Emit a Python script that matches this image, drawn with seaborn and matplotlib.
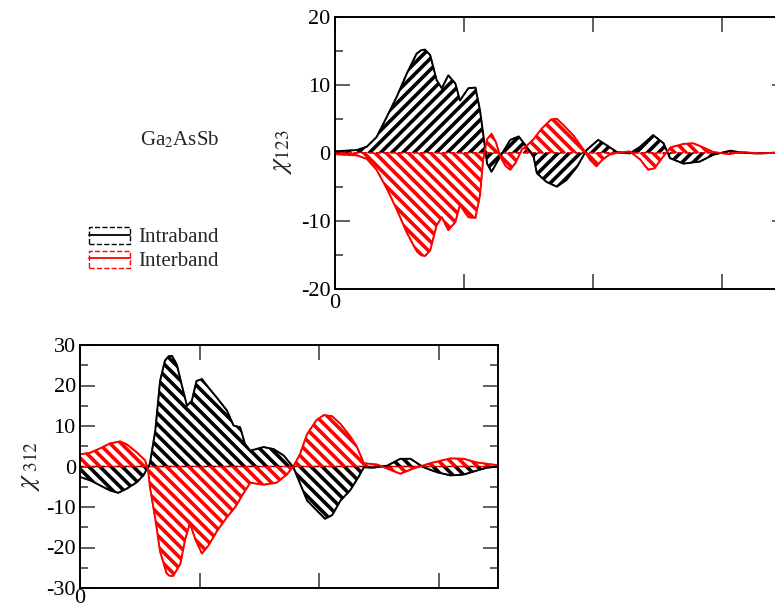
import numpy as np
import pandas as pd
import seaborn as sns
import matplotlib
matplotlib.use("Agg")
import matplotlib.pyplot as plt
from matplotlib.patches import Patch
from matplotlib.lines import Line2D
from matplotlib.ticker import MultipleLocator

# ---------------- data ----------------
# top panel: chi_123
top_intra_x = [0, 0.35, 0.5, 0.65, 0.81, 0.96, 1.12, 1.27, 1.34, 1.40, 1.48, 1.58, 1.66, 1.76, 1.87,
               1.94, 2.07, 2.18, 2.25, 2.30, 2.36, 2.43, 2.56, 2.72, 2.85, 2.97, 3.08, 3.13,
               3.28, 3.44, 3.59, 3.75, 3.90, 4.08, 4.21, 4.37, 4.57, 4.73, 4.93, 5.09, 5.19,
               5.40, 5.65, 5.86, 6.12, 6.32, 6.53, 6.81, 7.0]
top_intra_y = [0.2, 0.4, 0.9, 2.3, 5.3, 8.2, 11.7, 14.6, 15.1, 15.2, 14.4, 10.7, 9.5, 11.4, 10.2,
               7.7, 9.5, 9.6, 6.3, 2.8, -1.6, -2.8, -0.6, 1.9, 2.4, 0.9, -0.6, -3.0,
               -4.3, -5.0, -4.0, -2.1, 0.4, 1.9, 1.1, 0.1, -0.1, 0.9, 2.6, 1.4, -0.8,
               -1.6, -1.3, -0.3, 0.3, 0.0, -0.1, 0.0, 0.0]
top_inter_x = [0, 0.35, 0.5, 0.65, 0.81, 0.96, 1.12, 1.27, 1.34, 1.40, 1.48, 1.58, 1.66, 1.76, 1.87,
               1.94, 2.07, 2.18, 2.25, 2.30, 2.36, 2.43, 2.50, 2.56, 2.65, 2.72, 2.80, 2.90,
               2.97, 3.08, 3.20, 3.35, 3.44, 3.55, 3.70, 3.85, 3.95, 4.05, 4.15, 4.25, 4.37,
               4.57, 4.73, 4.85, 4.95, 5.09, 5.20, 5.40, 5.55, 5.70, 5.86, 6.10, 6.30, 6.60,
               6.81, 7.0]
top_inter_y = [-0.2, -0.4, -0.9, -2.5, -5.3, -8.3, -11.8, -14.5, -15.1, -15.2, -14.4, -10.7, -9.5,
               -11.4, -10.2, -7.7, -9.5, -9.6, -6.3, -1.0, 2.0, 2.8, 1.5, -0.5, -2.0, -2.5,
               -1.5, 0.5, 1.0, 2.0, 3.5, 4.9, 5.0, 4.0, 2.5, 0.5, -1.0, -2.0, -1.0, -0.3,
               0.0, 0.2, -1.0, -2.5, -2.3, -0.5, 0.8, 1.3, 1.4, 0.8, 0.1, -0.2, 0.1, -0.1,
               0.0, 0.0]

# bottom panel: chi_312
bot_intra_x = [0, 0.17, 0.34, 0.50, 0.64, 0.78, 0.95, 1.06, 1.17, 1.26, 1.34, 1.42, 1.48, 1.54,
               1.62, 1.70, 1.79, 1.87, 1.95, 2.04, 2.15, 2.29, 2.46, 2.57, 2.68, 2.76, 2.85,
               3.07, 3.24, 3.41, 3.57, 3.66, 3.80, 3.96, 4.10, 4.22, 4.36, 4.52, 4.66, 4.75,
               4.91, 5.14, 5.36, 5.53, 5.75, 5.97, 6.20, 6.42, 6.64, 6.81, 7.0]
bot_intra_y = [-2.6, -3.4, -4.7, -5.9, -6.5, -5.5, -3.9, -2.2, 0.7, 8.9, 21.1, 26.1, 27.2, 27.3,
               25.2, 20.3, 15.0, 16.2, 21.1, 21.6, 19.5, 17.0, 13.8, 10.1, 9.7, 5.6, 3.9,
               4.8, 4.3, 2.7, -0.2, -3.4, -8.4, -10.8, -12.9, -12.0, -8.4, -5.9, -2.6, -0.2,
               -0.3, 0.2, 1.9, 1.9, -0.2, -1.4, -2.2, -2.0, -1.0, -0.3, 0.0]
bot_inter_x = [0, 0.17, 0.34, 0.50, 0.67, 0.78, 0.95, 1.09, 1.14, 1.17, 1.26, 1.34, 1.45, 1.50,
               1.56, 1.68, 1.76, 1.84, 1.93, 2.04, 2.15, 2.29, 2.46, 2.60, 2.74, 2.85, 3.07,
               3.29, 3.46, 3.57, 3.68, 3.80, 3.96, 4.08, 4.22, 4.36, 4.52, 4.63, 4.75, 4.97,
               5.19, 5.36, 5.58, 5.86, 6.20, 6.42, 6.64, 7.0]
bot_inter_y = [3.0, 3.4, 4.5, 5.7, 6.2, 5.5, 3.5, 1.5, -1.0, -5.0, -13.0, -21.0, -26.4, -27.0,
               -27.0, -24.0, -18.0, -14.0, -18.0, -21.5, -19.5, -16.0, -12.5, -10.0, -6.5,
               -4.0, -4.5, -4.0, -2.0, 0.0, 3.0, 8.0, 11.5, 12.7, 12.4, 10.5, 7.5, 5.0, 0.8,
               0.5, -0.8, -1.8, -0.5, 0.8, 2.0, 1.9, 1.0, 0.3]

series_labels = ["Intraband", "Interband"]
series_colors = ["black", "red"]
material = "Ga$_2$AsSb"
top_ylabel = r"$\chi_{123}$"
bot_ylabel = r"$\chi_{\ 312}$"

# ---------------- styling ----------------
sns.set_style("ticks")
plt.rcParams["font.family"] = ["Liberation Serif", "DejaVu Serif"]
plt.rcParams["mathtext.fontset"] = "stix"
plt.rcParams["hatch.linewidth"] = 2.6
plt.rcParams["axes.unicode_minus"] = False

fig = plt.figure(figsize=(7.75, 6.13), dpi=100)
ax_top = fig.add_axes([334.5 / 775, 1 - 288.5 / 613, 452.5 / 775, 271.5 / 613])
ax_bot = fig.add_axes([80 / 775, 1 - 588 / 613, 418.3 / 775, 243 / 613])


def draw_panel(ax, xi, yi, xe, ye, hatch_i, hatch_e, ylim, ylabel, labelpad, xpad):
    d_i = pd.DataFrame({"x": xi, "y": yi})
    d_e = pd.DataFrame({"x": xe, "y": ye})
    ax.fill_between(d_i["x"], d_i["y"], 0, facecolor="none", edgecolor=series_colors[0],
                    hatch=hatch_i, linewidth=1.0, linestyle="--")
    ax.fill_between(d_e["x"], d_e["y"], 0, facecolor="none", edgecolor=series_colors[1],
                    hatch=hatch_e, linewidth=1.0, linestyle="--")
    sns.lineplot(data=d_i, x="x", y="y", ax=ax, color=series_colors[0], lw=1.4,
                 sort=False, estimator=None)
    sns.lineplot(data=d_e, x="x", y="y", ax=ax, color=series_colors[1], lw=1.4,
                 sort=False, estimator=None)
    ax.set_xlim(0, 7)
    ax.set_ylim(*ylim)
    ax.set_xticks([0, 2, 4, 6])
    ax.set_xticklabels(["0", "", "", ""])
    ax.yaxis.set_major_locator(MultipleLocator(10))
    ax.yaxis.set_minor_locator(MultipleLocator(5))
    ax.tick_params(which="both", direction="in", top=True, right=True, colors="#444444",
                   labelcolor="black", width=1.2)
    ax.tick_params(which="major", length=11, labelsize=16, pad=3)
    ax.tick_params(which="minor", length=5.5)
    ax.tick_params(axis="x", pad=xpad)
    for s in ax.spines.values():
        s.set_linewidth(1.4)
        s.set_color("black")
    ax.set_xlabel("")
    ax.set_ylabel(ylabel, fontsize=20, labelpad=labelpad)


draw_panel(ax_top, top_intra_x, top_intra_y, top_inter_x, top_inter_y, "///", "\\\\\\",
           (-20, 20), top_ylabel, 5, 4)
draw_panel(ax_bot, bot_intra_x, bot_intra_y, bot_inter_x, bot_inter_y, "\\\\\\", "\\\\\\",
           (-30, 30), bot_ylabel, 3, 1)

fig.text(180 / 775, 1 - 140 / 613, material, fontsize=15, ha="center", va="center")

handles = [(Patch(facecolor="none", edgecolor=c, linestyle="--", linewidth=1),
            Line2D([], [], color=c, lw=1.3)) for c in series_colors]
fig.legend(handles, series_labels, loc="upper left",
           bbox_to_anchor=(74 / 775, 1 - 212 / 613), frameon=False, fontsize=15,
           handlelength=2.0, handleheight=0.9, handletextpad=0.4, labelspacing=0.15,
           borderpad=0.2)

fig.savefig("out.png", dpi=100)
